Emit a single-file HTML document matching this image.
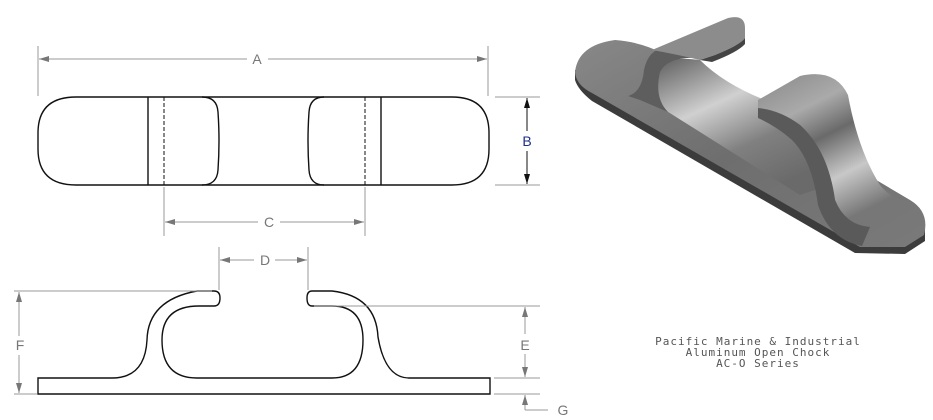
<!DOCTYPE html>
<html><head><meta charset="utf-8"><style>
html,body{margin:0;padding:0;background:#fff;width:933px;height:420px;overflow:hidden}
svg{display:block}
.o{fill:none;stroke:#111;stroke-width:1.4}
.d{fill:none;stroke:#999;stroke-width:1}
.t{font-family:"Liberation Sans",sans-serif;font-size:14px;fill:#777}
.c{font-family:"DejaVu Sans Mono","Liberation Mono",monospace;font-size:11px;fill:#555;letter-spacing:1px}
</style></head><body>
<svg width="933" height="420" viewBox="0 0 933 420" xmlns="http://www.w3.org/2000/svg">
<defs>
<marker id="ar" viewBox="0 0 10 6" refX="10" refY="3" markerWidth="10" markerHeight="6" orient="auto-start-reverse" markerUnits="userSpaceOnUse"><path d="M0,0L10,3L0,6z" fill="#777"/></marker>
<marker id="ab" viewBox="0 0 10 6" refX="10" refY="3" markerWidth="10" markerHeight="6" orient="auto-start-reverse" markerUnits="userSpaceOnUse"><path d="M0,0L10,3L0,6z" fill="#111"/></marker>
<linearGradient id="g1" x1="0" y1="0" x2="1" y2="1"><stop offset="0" stop-color="#888"/><stop offset="0.5" stop-color="#6e6e6e"/><stop offset="1" stop-color="#7a7a7a"/></linearGradient>
<linearGradient id="g2" x1="0" y1="0" x2="0.6" y2="1"><stop offset="0" stop-color="#5a5a5a"/><stop offset="0.4" stop-color="#d0d0d0"/><stop offset="0.7" stop-color="#808080"/><stop offset="1" stop-color="#6a6a6a"/></linearGradient>
<linearGradient id="g3" x1="0" y1="0" x2="0.5" y2="1"><stop offset="0" stop-color="#888"/><stop offset="0.3" stop-color="#aaa"/><stop offset="0.5" stop-color="#6a6a6a"/><stop offset="0.75" stop-color="#c8c8c8"/><stop offset="1" stop-color="#777"/></linearGradient>
</defs>

<!-- Top view -->
<path class="o" d="M76,97 L452,97 Q489,97 489,133 L489,149 Q489,185 452,185 L76,185 Q38,185 38,149 L38,133 Q38,97 76,97 Z"/>
<line class="o" x1="148" y1="97" x2="148" y2="185"/>
<line class="o" x1="381" y1="97" x2="381" y2="185"/>
<line x1="164" y1="97" x2="164" y2="185" stroke="#111" stroke-width="1" stroke-dasharray="4,2"/>
<line x1="365" y1="97" x2="365" y2="185" stroke="#111" stroke-width="1" stroke-dasharray="4,2"/>
<path class="o" d="M202,97 Q217,97 218,112 Q220,141 218,170 Q217,185 202,185"/>
<path class="o" d="M324,97 Q310,97 309,112 Q307,141 309,170 Q310,185 324,185"/>
<line class="d" x1="38" y1="46" x2="38" y2="96"/>
<line class="d" x1="488" y1="46" x2="488" y2="96"/>
<line class="d" x1="39" y1="59" x2="247" y2="59" marker-start="url(#ar)"/>
<line class="d" x1="268" y1="59" x2="487" y2="59" marker-end="url(#ar)"/>
<text class="t" x="257" y="64" text-anchor="middle">A</text>
<line class="d" x1="495" y1="97" x2="540" y2="97"/>
<line class="d" x1="495" y1="185" x2="540" y2="185"/>
<line x1="527" y1="98" x2="527" y2="131" stroke="#111" marker-start="url(#ab)"/>
<line x1="527" y1="151" x2="527" y2="184" stroke="#111" marker-end="url(#ab)"/>
<text x="527" y="146" text-anchor="middle" style="font-family:'Liberation Sans',sans-serif;font-size:14px;fill:#1e2e8a">B</text>
<line class="d" x1="164" y1="187" x2="164" y2="236"/>
<line class="d" x1="365" y1="187" x2="365" y2="236"/>
<line class="d" x1="165" y1="222" x2="258" y2="222" marker-start="url(#ar)"/>
<line class="d" x1="280" y1="222" x2="364" y2="222" marker-end="url(#ar)"/>
<text class="t" x="269" y="227" text-anchor="middle">C</text>

<!-- Side view -->
<path class="o" d="M38,378 L112,378 Q145,378 147,340 Q148,300 197,291 L214,291 Q220,291 220,298 Q220,306 214,306 L199,306 Q162,306 162,340 Q162,378 197,378 L332,378 Q363,378 363,340 Q363,306 332,306 L312,306 Q307,306 307,298 Q307,291 312,291 L332,291 Q376,296 378,337 Q385,378 409,378 L490,378 L490,394 L38,394 Z"/>
<line class="d" x1="219" y1="247" x2="219" y2="290"/>
<line class="d" x1="308" y1="247" x2="308" y2="290"/>
<line class="d" x1="220" y1="260" x2="254" y2="260" marker-start="url(#ar)"/>
<line class="d" x1="275" y1="260" x2="307" y2="260" marker-end="url(#ar)"/>
<text class="t" x="265" y="265" text-anchor="middle">D</text>
<line class="d" x1="14" y1="291" x2="212" y2="291"/>
<line class="d" x1="14" y1="394" x2="37" y2="394"/>
<line class="d" x1="19" y1="292" x2="19" y2="336" marker-start="url(#ar)"/>
<line class="d" x1="19" y1="355" x2="19" y2="393" marker-end="url(#ar)"/>
<text class="t" x="20" y="350" text-anchor="middle">F</text>
<line class="d" x1="314" y1="306" x2="540" y2="306"/>
<line class="d" x1="494" y1="378" x2="540" y2="378"/>
<line class="d" x1="494" y1="394" x2="540" y2="394"/>
<line class="d" x1="525" y1="307" x2="525" y2="334" marker-start="url(#ar)"/>
<line class="d" x1="525" y1="354" x2="525" y2="377" marker-end="url(#ar)"/>
<text class="t" x="525" y="350" text-anchor="middle">E</text>
<line class="d" x1="525" y1="410" x2="525" y2="395" marker-end="url(#ar)"/>
<line class="d" x1="525" y1="410" x2="548" y2="410"/>
<text class="t" x="563" y="415" text-anchor="middle">G</text>

<text class="c" x="758" y="345" text-anchor="middle">Pacific Marine &amp; Industrial</text>
<text class="c" x="758" y="356" text-anchor="middle">Aluminum Open Chock</text>
<text class="c" x="758" y="367" text-anchor="middle">AC-O Series</text>

<!-- 3D render -->
<path d="M575,70 L575,80 Q578,90 592,101 L855,253 L905,254 L925,241 L925,230 Z" fill="#3c3c3c"/>
<path d="M575,72 Q578,45 615,40 Q640,42 660,52 L910,200 Q930,212 924,235 L905,247 L860,247 L592,93 Q576,85 575,72Z" fill="url(#g1)"/>
<!-- cavity inner surface -->
<path d="M652,70 Q662,55 700,60 Q725,85 770,102 L800,115 Q825,140 830,185 L800,195 L665,110 Q650,95 652,70 Z" fill="url(#g2)"/>
<!-- left hump outer -->
<path d="M628,96 Q642,92 644,70 Q648,50 665,47 L700,58 Q668,56 660,72 Q654,98 668,112 L640,100 Z" fill="#5e5e5e"/>
<!-- left lip top -->
<path d="M652,50 L728,18 Q745,14 745,28 L745,38 Q740,45 715,55 L700,60 Q675,54 652,50Z" fill="#8c8c8c"/>
<path d="M700,60 L715,55 Q740,45 745,38 L745,44 Q738,52 712,62 Z" fill="#444"/>
<!-- right hump -->
<path d="M758,100 L800,76 Q835,68 848,95 Q858,150 880,185 Q892,200 910,202 L870,226 Q845,225 835,200 Q828,150 800,125 Q780,110 758,108 Z" fill="url(#g3)"/>
<path d="M758,108 Q780,110 800,125 Q828,150 835,200 Q845,225 870,227 L862,246 Q830,240 818,205 Q812,160 792,140 Q776,126 758,118 Z" fill="#5a5a5a"/>
</svg>
</body></html>
